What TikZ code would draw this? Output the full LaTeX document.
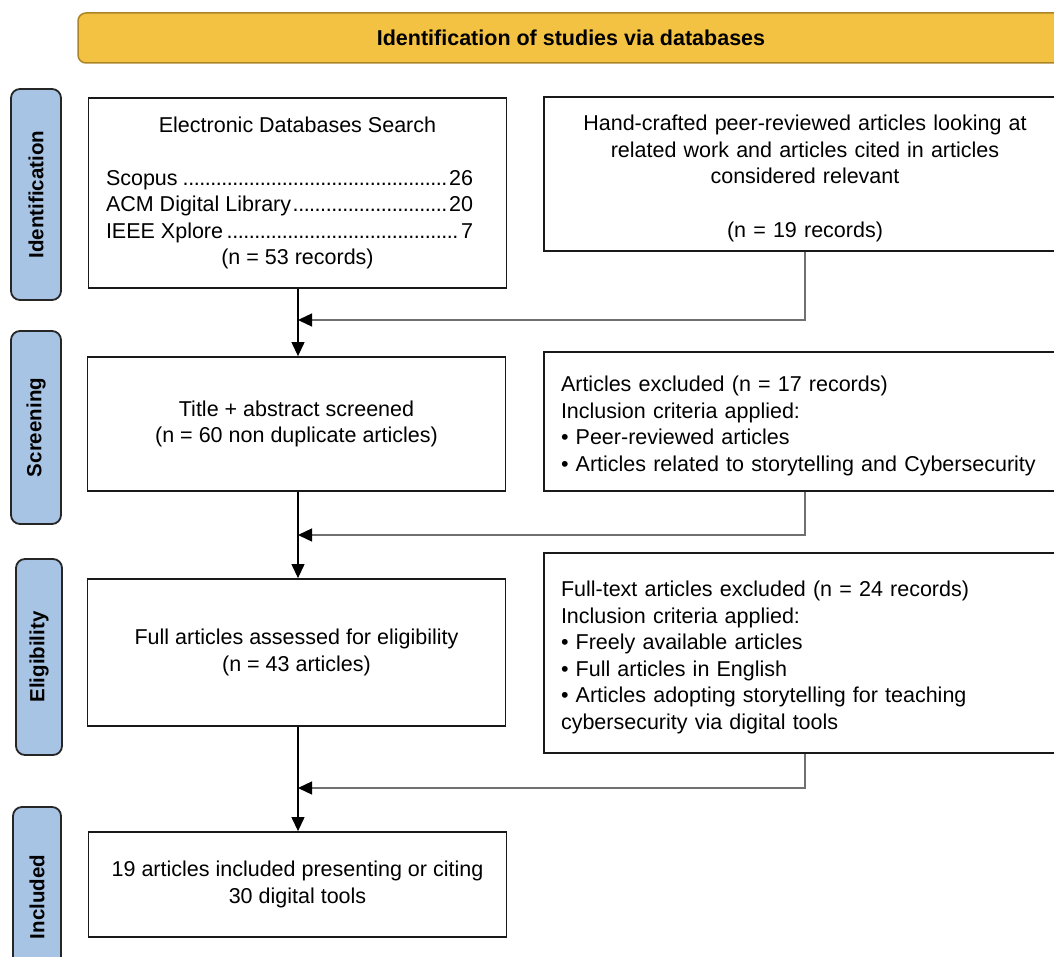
\documentclass[tikz,border=0pt]{standalone}
\usepackage{fontspec}
\setmainfont{Liberation Sans}
\usepackage{tikz}
\usetikzlibrary{arrows.meta, positioning}
\definecolor{bannerfill}{RGB}{244,194,66}
\definecolor{bannerline}{RGB}{170,132,38}
\definecolor{stagefill}{RGB}{168,196,228}
\definecolor{feedgray}{RGB}{112,112,112}
\tikzset{
    banner/.style={draw=bannerline, fill=bannerfill, rounded corners=8pt, line width=1.5pt, minimum height=50pt, minimum width=986pt, font=\fontsize{21.5}{26}\selectfont\bfseries},
    stage/.style={draw=black!85, fill=stagefill, rounded corners=9pt, line width=1.8pt, rotate=90, minimum height=50pt, font=\fontsize{20.5}{24}\selectfont\bfseries},
    record/.style={draw=black!90, line width=1.8pt, minimum width=418pt, align=center, font=\fontsize{21.5}{26.5}\selectfont, execute at begin node={\rule{0pt}{25pt}}},
    excluded/.style={draw=black!90, line width=1.8pt, minimum width=522pt, inner sep=0pt, text width=488pt, align=left, font=\fontsize{21.5}{26.5}\selectfont, execute at begin node={\rule{0pt}{24pt}}},
    flow/.style={-{Triangle[length=14pt,width=13pt]}, line width=1.2pt},
    feed/.style={-{Triangle[length=14pt,width=13pt,color=black]}, draw=feedgray, line width=1.3pt} }
\newcommand{\dbrow}[2]{\makebox[383pt][l]{\hbox to 367pt{#1\leaders\hbox to 5.5pt{\hss.\hss}\hfill#2}}}

\begin{document}
\begin{tikzpicture}[x=1pt, y=-1pt]
	\useasboundingbox (0,0) rectangle (1054,957);
	\node[banner] (head) at (571,38) {Identification of studies via databases};
	% stages
	\node[stage, minimum width=211pt] (tag1) at (36,194.5) {Identification};
	\node[stage, minimum width=193pt] (tag2) at (36,427.5) {Screening};
	\node[stage, minimum width=196pt, minimum height=46pt] (tag3) at (39,657) {Eligibility};
	\node[stage, minimum width=180pt, minimum height=48pt] (tag4) at (37,897) {Included};
	% ----
	\node[record, minimum height=190pt] (search) at (297.5,193) {Electronic Databases Search\\[26pt]
		\dbrow{Scopus}{26}\\ \dbrow{ACM Digital Library}{20}\\ \dbrow{IEEE Xplore}{7}\\ (n = 53 records)};
	\node[excluded, minimum height=154pt, align=center] (manual) at (805,174) {Hand-crafted peer-reviewed articles looking at\\
		related work and articles cited in articles\\ considered relevant\\[27pt] (n = 19 records)};
	\node[record, minimum height=134pt] (screen) at (296.5,424) {Title + abstract screened\\ (n = 60 non duplicate articles)};
	\node[excluded, minimum height=139pt] (drop1) at (805,421.5) {Articles excluded (n = 17 records)\\
		Inclusion criteria applied:\\ • Peer-reviewed articles\\ • Articles related to storytelling and Cybersecurity};
	\node[record, minimum height=147pt] (assess) at (296.5,652.5) {Full articles assessed for eligibility\\ (n = 43 articles)};
	\node[excluded, minimum height=200pt] (drop2) at (805,653) {Full-text articles excluded (n = 24 records)\\
		Inclusion criteria applied:\\ • Freely available articles\\ • Full articles in English\\
		• Articles adopting storytelling for teaching\\ cybersecurity via digital tools};
	\node[record, minimum height=105pt] (final) at (297.5,884.5) {19 articles included presenting or citing\\ 30 digital tools};
	% ----
	\coordinate (j1) at (298,320);
	\coordinate (j2) at (298,535);
	\coordinate (j3) at (298,788);

	\draw[feed] (manual.south) |- (j1);
	\draw[feed] (drop1.south) |- (j2);
	\draw[feed] (drop2.south) |- (j3);

	\draw[flow] (search.south -| j1) -- (screen.north -| j1);
	\draw[flow] (screen.south -| j2) -- (assess.north -| j2);
	\draw[flow] (assess.south -| j3) -- (final.north -| j3);
\end{tikzpicture}
\end{document}
